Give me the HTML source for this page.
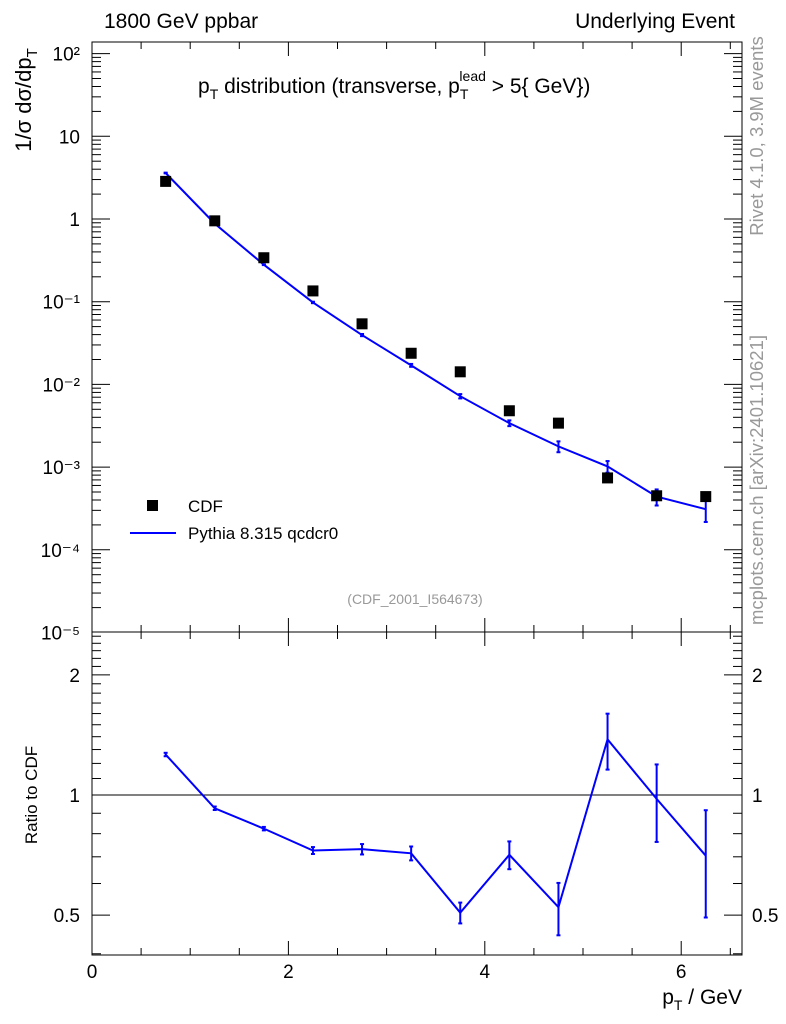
<!DOCTYPE html>
<html><head><meta charset="utf-8"><style>
body{margin:0;background:#fff}
svg{display:block;font-family:"Liberation Sans",sans-serif}
</style></head><body>
<svg id="c" width="786" height="1024" viewBox="0 0 786 1024">
<text x="104" y="28" font-size="21">1800 GeV ppbar</text>
<text x="735" y="28" font-size="21" text-anchor="end">Underlying Event</text>
<text x="198" y="93" font-size="21">p<tspan font-size="14" dy="6">T</tspan><tspan dy="-6"> distribution (transverse, p</tspan><tspan font-size="14" dy="6">T</tspan><tspan font-size="14" dy="-18" dx="-9">lead</tspan><tspan dy="12"> &gt; 5{ GeV})</tspan></text>
<text x="415" y="604" font-size="14" fill="#999" text-anchor="middle">(CDF_2001_I564673)</text>
<text transform="translate(763,136) rotate(-90)" font-size="18.5" fill="#999" text-anchor="middle">Rivet 4.1.0,  3.9M events</text>
<text transform="translate(763,480) rotate(-90)" font-size="18.5" fill="#999" text-anchor="middle">mcplots.cern.ch [arXiv:2401.10621]</text>
<text transform="translate(31,100) rotate(-90)" font-size="22" text-anchor="middle">1/σ  dσ/dp<tspan font-size="15" dy="6">T</tspan></text>
<text transform="translate(37,795) rotate(-90)" font-size="17" text-anchor="middle">Ratio to CDF</text>
<text x="742" y="1004" font-size="21" text-anchor="end">p<tspan font-size="14" dy="6">T</tspan><tspan dy="-6"> / GeV</tspan></text>
<g id="g"></g>
</svg>
<script>
const xs=[0.75,1.25,1.75,2.25,2.75,3.25,3.75,4.25,4.75,5.25,5.75,6.25];
const cdfVals=[2.85,0.95,0.34,0.135,0.054,0.0238,0.0142,0.0048,0.0034,0.00074,0.00045,0.00044];
const mcVals=[3.6,0.88,0.28,0.098,0.0395,0.0170,0.0072,0.0034,0.00178,0.00102,0.00044,0.00031];
const mcRelErr=[0.01,0.01,0.01,0.02,0.03,0.04,0.06,0.08,0.15,0.16,0.22,0.3];
const xTicks=[0,2,4,6];
const yTickLabels=["10⁻⁵","10⁻⁴","10⁻³","10⁻²","10⁻¹","1","10","10²"];
const ratioTicks=[0.5,1,2];
const L=92,R=742,T=42,M=632,B=955;
const X=v=>L+v*98.2;
const Y=v=>219-Math.log10(v)*82.7;
const RY=v=>795-Math.log10(v)*399;
const g=document.getElementById('g');
const NS="http://www.w3.org/2000/svg";
function mk(t,a,name,par){const e=document.createElementNS(NS,t);for(const k in a)e.setAttribute(k,a[k]);


(par||g).appendChild(e);return e;}
mk('rect',{x:L,y:T,width:R-L,height:M-T,fill:'none',stroke:'#000'},'main-frame');
mk('rect',{x:L,y:M,width:R-L,height:B-M,fill:'none',stroke:'#000'},'ratio-frame');
for(let v=0;v<=6.6;v+=0.5){const maj=Math.abs(v%2)<1e-9;const len=maj?14:7;
for(const [y0,d] of [[M,-1],[T,1],[B,-1],[M,1]]){mk('line',{x1:X(v),x2:X(v),y1:y0,y2:y0+d*len,stroke:'#000'},'x-tick');}}
xTicks.forEach(v=>{const t=mk('text',{x:X(v),y:978,'font-size':19,'text-anchor':'middle'},'x-tick-label');t.textContent=v;});
for(let e=-5;e<=2;e++){for(let m=1;m<10;m++){const v=m*Math.pow(10,e);const y=Y(v);if(y<T||y>M)continue;const len=m==1?18:9;
mk('line',{x1:L,x2:L+len,y1:y,y2:y,stroke:'#000'},'y-tick');mk('line',{x1:R,x2:R-len,y1:y,y2:y,stroke:'#000'},'y-tick');}
const t=mk('text',{x:80,y:Y(Math.pow(10,e))+7,'font-size':19,'text-anchor':'end'},'y-tick-label');t.textContent=yTickLabels[e+5];}
for(let v=0.4;v<=2.6;v+=0.1){const y=RY(v);if(y<M||y>B)continue;const maj=ratioTicks.some(r=>Math.abs(r-v)<1e-6);const len=maj?18:9;
mk('line',{x1:L,x2:L+len,y1:y,y2:y,stroke:'#000'},'ratio-tick');mk('line',{x1:R,x2:R-len,y1:y,y2:y,stroke:'#000'},'ratio-tick');}
ratioTicks.forEach(v=>{let t=mk('text',{x:80,y:RY(v)+7,'font-size':19,'text-anchor':'end'},'ratio-tick-label');t.textContent=v;
t=mk('text',{x:752,y:RY(v)+7,'font-size':19},'ratio-tick-label');t.textContent=v;});
mk('line',{x1:L,x2:R,y1:RY(1),y2:RY(1),stroke:'#000'},'ratio-unity-line');
mk('polyline',{points:xs.map((x,i)=>X(x)+','+Y(mcVals[i])).join(' '),fill:'none',stroke:'#00f','stroke-width':2},'mc-line');
xs.forEach((x,i)=>{const lo=mcVals[i]*(1-mcRelErr[i]),hi=mcVals[i]*(1+mcRelErr[i]);
mk('line',{x1:X(x),x2:X(x),y1:Y(lo),y2:Y(hi),stroke:'#00f','stroke-width':2},'mc-error-bar');
mk('line',{x1:X(x)-2,x2:X(x)+2,y1:Y(lo),y2:Y(lo),stroke:'#00f','stroke-width':2},'mc-error-cap');
mk('line',{x1:X(x)-2,x2:X(x)+2,y1:Y(hi),y2:Y(hi),stroke:'#00f','stroke-width':2},'mc-error-cap');});
xs.forEach((x,i)=>mk('rect',{x:X(x)-5.5,y:Y(cdfVals[i])-5.5,width:11,height:11,fill:'#000'},'cdf-point'));
const rat=xs.map((x,i)=>mcVals[i]/cdfVals[i]);
mk('polyline',{points:xs.map((x,i)=>X(x)+','+RY(rat[i])).join(' '),fill:'none',stroke:'#00f','stroke-width':2},'ratio-line');
xs.forEach((x,i)=>{const lo=rat[i]*(1-mcRelErr[i]),hi=rat[i]*(1+mcRelErr[i]);
mk('line',{x1:X(x),x2:X(x),y1:RY(lo),y2:RY(hi),stroke:'#00f','stroke-width':2},'ratio-error-bar');
mk('line',{x1:X(x)-2,x2:X(x)+2,y1:RY(lo),y2:RY(lo),stroke:'#00f','stroke-width':2},'ratio-error-cap');
mk('line',{x1:X(x)-2,x2:X(x)+2,y1:RY(hi),y2:RY(hi),stroke:'#00f','stroke-width':2},'ratio-error-cap');});
mk('rect',{x:147,y:500,width:11,height:11,fill:'#000'},'legend-cdf-marker');
let t=mk('text',{x:188,y:512,'font-size':17},'legend-cdf-label');t.textContent='CDF';
mk('line',{x1:130,x2:176,y1:533,y2:533,stroke:'#00f','stroke-width':2},'legend-mc-line');
t=mk('text',{x:188,y:539,'font-size':17},'legend-mc-label');t.textContent='Pythia 8.315 qcdcr0';
</script>
</body></html>
